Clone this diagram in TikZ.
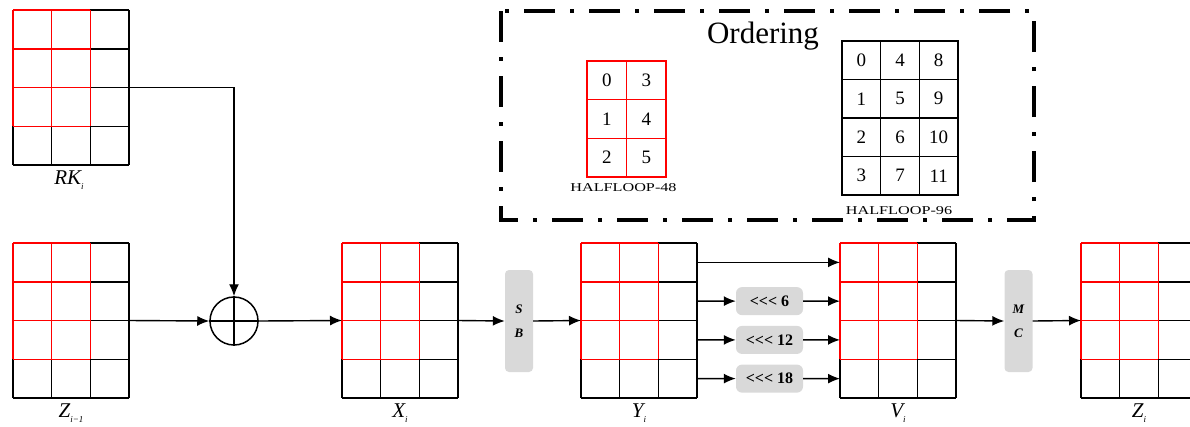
\documentclass[tikz,border=0pt]{standalone}
\usepackage{fontspec}
\usepackage{graphicx}
\setmainfont{Liberation Serif}
\usetikzlibrary{arrows.meta,calc}
\definecolor{boxgray}{HTML}{D9D9D9}
\definecolor{gridred}{HTML}{FF0000}
\tikzset{
  gridline/.style={line width=1.5pt, black},
  redline/.style={line width=1.5pt, gridred},
  gridbox/.style={draw=none, minimum width=116pt, minimum height=155pt, inner sep=0pt, outer sep=0pt},
  arr/.style={line width=1.4pt, -{Latex[length=12pt,width=10pt]}},
  plain/.style={line width=1.5pt},
  opbox/.style={fill=boxgray, rounded corners=4pt, minimum width=28pt, minimum height=102pt, inner sep=0pt, align=center, font=\fontsize{13}{24}\selectfont\bfseries\itshape},
  rotbox/.style={fill=boxgray, rounded corners=6pt, minimum width=67pt, minimum height=28pt, inner sep=0pt, font=\fontsize{16}{16}\selectfont\bfseries},
  lbl/.style={anchor=base, inner sep=0pt, font=\fontsize{21}{21}\selectfont\itshape},
  xorstyle/.style={circle, draw, line width=1.5pt, minimum size=48pt, inner sep=0pt},
  ordcell/.style={draw=#1, line width=1.5pt, inner sep=0pt, outer sep=0pt, font=\fontsize{19}{19}\selectfont},
  ordtitle/.style={anchor=base, inner sep=0pt, font=\fontsize{31}{31}\selectfont},
  halflbl/.style={anchor=base, inner sep=0pt, font=\fontsize{12}{12}\selectfont},
  orderframe/.style={line width=3.3pt, dash pattern=on 31pt off 15pt on 4pt off 15pt}
}
\newcommand\lll{<\kern0pt<\kern0pt<}
\newcommand\cellgrid[3]{%
  \begin{scope}[shift={(#2,#3)}]
    \node[gridbox] (#1) at (58,77.5) {};
    \foreach \k in {0,1,2,3} {\draw[gridline] (\k*38.667,0) -- (\k*38.667,155);}
    \foreach \k in {0,...,4} {\draw[gridline] (0,\k*38.75) -- (116,\k*38.75);}
    \foreach \k in {0,1,2} {\draw[redline] (\k*38.667,0) -- (\k*38.667,116.25);}
    \foreach \k in {0,...,3} {\draw[redline] (0,\k*38.75) -- (77.333,\k*38.75);}
    \foreach \k in {1,...,4} {
      \coordinate (#1-e\k) at (116,\k*38.75-19.375);
      \coordinate (#1-w\k) at (0,\k*38.75-19.375);
    }
  \end{scope}}
\begin{document}
\begin{tikzpicture}[x=1pt,y=-1pt]
\useasboundingbox (0,0) rectangle (1190,426);

% grids
\cellgrid{RK}{13}{10}
\cellgrid{Zp}{13}{243}
\cellgrid{X}{342}{243}
\cellgrid{Y}{581}{243}
\cellgrid{V}{840}{243}
\cellgrid{Zi}{1081}{243}

% labels
\node[lbl] (lRK) at (69,184) {RK\raisebox{-5pt}{\fontsize{9}{9}\selectfont i}};
\node[lbl] (lZp) at (71,417) {Z\raisebox{-5pt}{\fontsize{9}{9}\selectfont i−1}};
\node[lbl] (lX) at (400,417) {X\raisebox{-5pt}{\fontsize{9}{9}\selectfont i}};
\node[lbl] (lY) at (639,417) {Y\raisebox{-5pt}{\fontsize{9}{9}\selectfont i}};
\node[lbl] (lV) at (898,417) {V\raisebox{-5pt}{\fontsize{9}{9}\selectfont i}};
\node[lbl] (lZi) at (1139,417) {Z\raisebox{-5pt}{\fontsize{9}{9}\selectfont i}};

% XOR
\node[xorstyle] (xor) at (234,321) {};
\draw[plain] (xor.north) -- (xor.south);
\draw[plain] (xor.west) -- (xor.east);

% operation boxes
\node[opbox] (SB) at (519,321) {S\\B};
\node[opbox] (MC) at (1018.5,321) {M\\C};
\node[rotbox] (rot1) at (769.5,301.1) {\lll{} 6};
\node[rotbox] (rot2) at (769.5,339.9) {\lll{} 12};
\node[rotbox] (rot3) at (769.5,378.6) {\lll{} 18};

% connectors
\draw[arr] (RK.east) -| (xor.north);
\draw[arr] (Zp.east) -- (xor.west);
\draw[arr] (xor.east) -- (X.west);
\draw[arr] (X.east) -- (SB.west);
\draw[arr] (SB.east) -- (Y.west);
\draw[arr] (Y-e1) -- (V-w1);
\draw[arr] (Y-e2) -- (rot1.west);
\draw[arr] (rot1.east) -- (V-w2);
\draw[arr] (Y-e3) -- (rot2.west);
\draw[arr] (rot2.east) -- (V-w3);
\draw[arr] (Y-e4) -- (rot3.west);
\draw[arr] (rot3.east) -- (V-w4);
\draw[arr] (V.east) -- (MC.west);
\draw[arr] (MC.east) -- (Zi.west);

% ordering frame
\draw[orderframe] (501,11) rectangle (1034,220);
\node[ordtitle] (otitle) at (763,43) {Ordering};
\foreach \c in {0,1} {
  \foreach \r in {0,1,2} {
    \pgfmathtruncatemacro{\n}{\c*3+\r}
    \node[ordcell=gridred, minimum width=39.5pt, minimum height=38.67pt] (h48-\n) at (587+39.5*\c+19.75, 61+38.67*\r+19.33) {\n};
  }
}
\foreach \c in {0,1,2} {
  \foreach \r in {0,1,2,3} {
    \pgfmathtruncatemacro{\n}{\c*4+\r}
    \node[ordcell=black, minimum width=38.67pt, minimum height=38.5pt] (h96-\n) at (842+38.67*\c+19.33, 41+38.5*\r+19.25) {\n};
  }
}
\node[halflbl] (l48) at (623.5,191) {\scalebox{1.35}[1]{HALFLOOP-48}};
\node[halflbl] (l96) at (899,214) {\scalebox{1.35}[1]{HALFLOOP-96}};
\end{tikzpicture}
\end{document}
